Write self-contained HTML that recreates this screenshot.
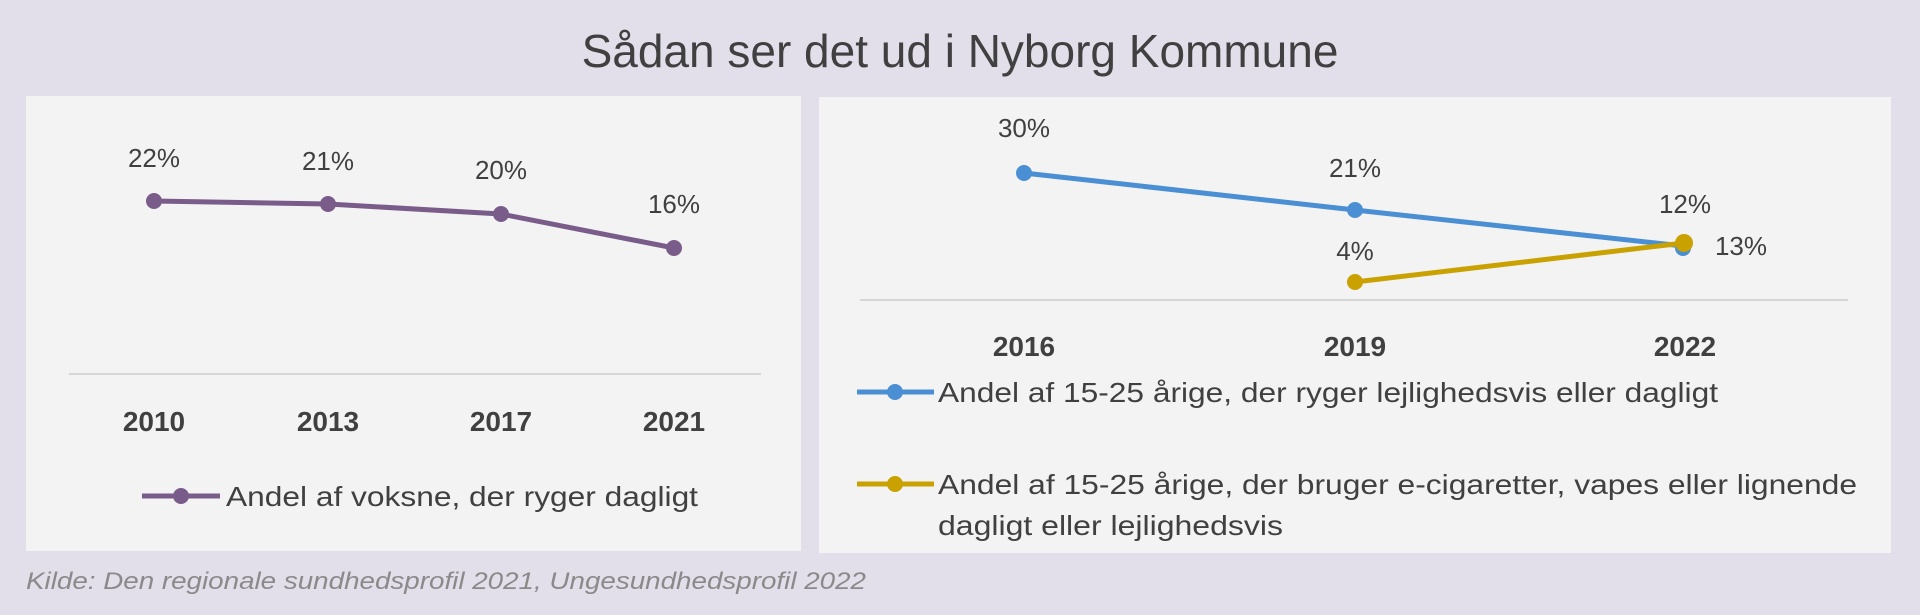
<!DOCTYPE html>
<html><head><meta charset="utf-8"><style>
body{margin:0;width:1920px;height:615px;background:#e3dfea;overflow:hidden}
svg{display:block}
</style></head><body>
<svg width="1920" height="615" xmlns="http://www.w3.org/2000/svg" font-family="Liberation Sans, sans-serif">
<rect width="1920" height="615" fill="#e3dfea"/>
<text x="960" y="67" text-anchor="middle" font-size="46" fill="#404040">Sådan ser det ud i Nyborg Kommune</text>
<rect x="26" y="96" width="775" height="455" fill="#f3f3f3"/>
<rect x="819" y="97" width="1072" height="456" fill="#f3f3f3"/>
<line x1="69" y1="374" x2="761" y2="374" stroke="#d6d6d6" stroke-width="2"/>
<polyline points="154,201 328,204 501,214 674,248" fill="none" stroke="#7a5c8a" stroke-width="5"/>
<g fill="#7a5c8a"><circle cx="154" cy="201" r="8"/><circle cx="328" cy="204" r="8"/><circle cx="501" cy="214" r="8"/><circle cx="674" cy="248" r="8"/></g>
<g font-size="26" fill="#404040" text-anchor="middle">
<text x="154" y="167">22%</text><text x="328" y="170">21%</text><text x="501" y="179">20%</text><text x="674" y="213">16%</text>
</g>
<g font-size="28" font-weight="bold" fill="#404040" text-anchor="middle">
<text x="154" y="431">2010</text><text x="328" y="431">2013</text><text x="501" y="431">2017</text><text x="674" y="431">2021</text>
</g>
<line x1="142" y1="496" x2="220" y2="496" stroke="#7a5c8a" stroke-width="5"/><circle cx="181" cy="496" r="8" fill="#7a5c8a"/>
<text x="226" y="506" font-size="28" fill="#404040" textLength="472" lengthAdjust="spacingAndGlyphs">Andel af voksne, der ryger dagligt</text>
<line x1="860" y1="300" x2="1848" y2="300" stroke="#d6d6d6" stroke-width="2"/>
<polyline points="1024,173 1355,210 1683,246" fill="none" stroke="#4a8fd4" stroke-width="5"/>
<g fill="#4a8fd4"><circle cx="1024" cy="173" r="8"/><circle cx="1355" cy="210" r="8"/><circle cx="1683" cy="248" r="8"/></g>
<polyline points="1355,282 1684,243" fill="none" stroke="#c9a100" stroke-width="5"/>
<g fill="#c9a100"><circle cx="1355" cy="282" r="8"/><circle cx="1684" cy="243" r="9"/></g>
<g font-size="26" fill="#404040" text-anchor="middle">
<text x="1024" y="137">30%</text><text x="1355" y="177">21%</text><text x="1685" y="213">12%</text><text x="1355" y="260">4%</text><text x="1741" y="255">13%</text>
</g>
<g font-size="28" font-weight="bold" fill="#404040" text-anchor="middle">
<text x="1024" y="356">2016</text><text x="1355" y="356">2019</text><text x="1685" y="356">2022</text>
</g>
<line x1="857" y1="392" x2="934" y2="392" stroke="#4a8fd4" stroke-width="5"/><circle cx="895" cy="392" r="8" fill="#4a8fd4"/>
<text x="938" y="402" font-size="28" fill="#404040" textLength="780" lengthAdjust="spacingAndGlyphs">Andel af 15-25 årige, der ryger lejlighedsvis eller dagligt</text>
<line x1="857" y1="484" x2="934" y2="484" stroke="#c9a100" stroke-width="5"/><circle cx="895" cy="484" r="8" fill="#c9a100"/>
<text x="938" y="494" font-size="28" fill="#404040" textLength="919" lengthAdjust="spacingAndGlyphs">Andel af 15-25 årige, der bruger e-cigaretter, vapes eller lignende</text>
<text x="938" y="535" font-size="28" fill="#404040" textLength="345" lengthAdjust="spacingAndGlyphs">dagligt eller lejlighedsvis</text>
<text x="26" y="589" font-size="24" font-style="italic" fill="#8a8a8a" textLength="840" lengthAdjust="spacingAndGlyphs">Kilde: Den regionale sundhedsprofil 2021, Ungesundhedsprofil 2022</text>
</svg>
</body></html>
